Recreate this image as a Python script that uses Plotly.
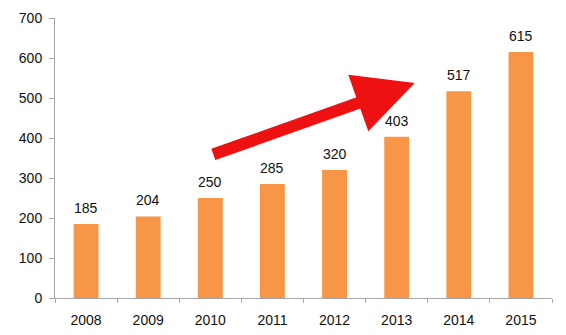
import plotly.graph_objects as go

years = ["2008", "2009", "2010", "2011", "2012", "2013", "2014", "2015"]
values = [185, 204, 250, 285, 320, 403, 517, 615]
y_ticks = [0, 100, 200, 300, 400, 500, 600, 700]

fig = go.Figure()
fig.add_trace(go.Bar(
    x=years, y=values,
    marker=dict(color="#F79646", line=dict(width=0)),
    width=0.4,
))

for i, v in enumerate(values):
    fig.add_annotation(
        x=i, y=v, text=str(v), showarrow=False,
        yanchor="middle", yshift=16,
        font=dict(size=14, color="#111111", family="Liberation Sans"),
    )

fig.add_annotation(
    x=0.724, y=0.768, xref="paper", yref="paper",
    ax=-203, ay=72, text="", showarrow=True,
    arrowhead=2, arrowsize=1, arrowwidth=12, arrowcolor="#EE1111",
    standoff=0,
)

fig.update_layout(
    width=566, height=335,
    margin=dict(l=55, r=14, t=18, b=37),
    plot_bgcolor="white", paper_bgcolor="white",
    showlegend=False,
    font=dict(family="Liberation Sans", size=14, color="#111111"),
)
fig.update_xaxes(
    type="category", range=[-0.5, len(years) - 0.5],
    showline=True, linecolor="#A6A6A6", linewidth=1,
    ticks="outside", ticklen=4, tickcolor="#A6A6A6",
    tickson="boundaries", showgrid=False,
    tickfont=dict(size=14, color="#111111"),
    ticklabelstandoff=9, tickangle=0, automargin=False,
)
fig.update_yaxes(
    range=[0, 700], tickvals=y_ticks,
    showline=True, linecolor="#A6A6A6", linewidth=1,
    ticks="outside", ticklen=5, tickcolor="#A6A6A6",
    showgrid=False, zeroline=False,
    tickfont=dict(size=14, color="#111111"),
    ticklabelstandoff=4, automargin=False,
)

fig.write_html("out.html")
